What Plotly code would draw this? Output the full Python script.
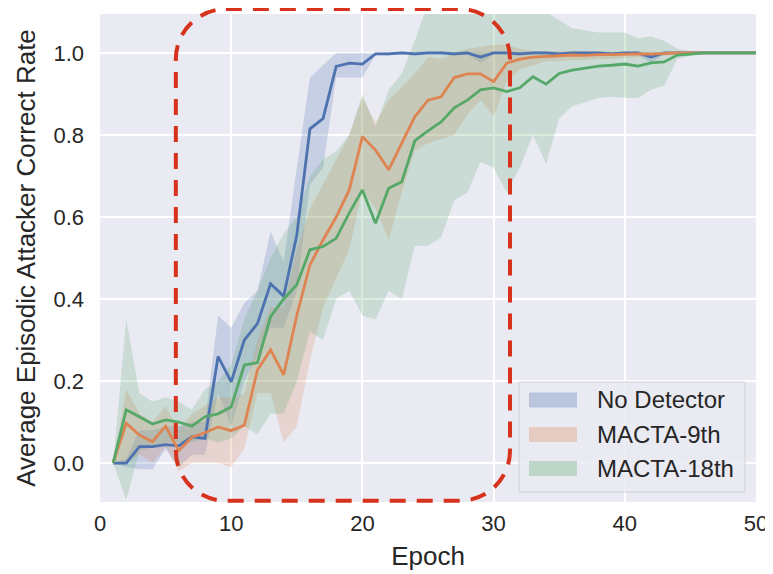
import plotly.graph_objects as go

# ---------------- data ----------------
epochs = list(range(1, 51))

no_det_mean = [0.0, 0.0, 0.04, 0.04, 0.045, 0.042, 0.064, 0.06, 0.26, 0.198,
               0.30, 0.34, 0.437, 0.407, 0.556, 0.815, 0.84, 0.967, 0.975, 0.973,
               0.998, 0.998, 1.0, 0.998, 1.0, 1.0, 0.998, 1.0, 0.99, 1.0,
               1.0, 0.998, 1.0, 1.0, 0.998, 1.0, 1.0, 1.0, 0.998, 1.0,
               1.0, 0.99, 1.0, 1.0, 1.0, 1.0, 1.0, 1.0, 1.0, 1.0]
no_det_lo = [0.0, -0.01, -0.015, -0.015, 0.035, -0.01, 0.02, 0.02, 0.17, 0.09,
             0.2, 0.26, 0.33, 0.33, 0.42, 0.68, 0.72, 0.94, 0.94, 0.94,
             0.995, 0.994, 0.996, 0.993, 0.996, 0.996, 0.993, 0.996, 0.975, 0.996,
             0.996, 0.993, 0.996, 0.996, 0.993, 0.996, 0.996, 0.996, 0.993, 0.996,
             0.996, 0.975, 0.996, 0.998, 1.0, 1.0, 1.0, 1.0, 1.0, 1.0]
no_det_hi = [0.0, 0.01, 0.08, 0.08, 0.09, 0.09, 0.10, 0.10, 0.36, 0.33,
             0.39, 0.42, 0.565, 0.49, 0.72, 0.94, 0.97, 1.0, 1.0, 1.0,
             1.0, 1.002, 1.003, 1.003, 1.003, 1.003, 1.003, 1.003, 1.003, 1.003,
             1.003, 1.003, 1.003, 1.003, 1.003, 1.003, 1.003, 1.003, 1.003, 1.003,
             1.003, 1.003, 1.003, 1.002, 1.0, 1.0, 1.0, 1.0, 1.0, 1.0]

m9_mean = [0.0, 0.097, 0.068, 0.052, 0.09, 0.03, 0.063, 0.074, 0.088, 0.079,
           0.092, 0.227, 0.276, 0.215, 0.36, 0.483, 0.544, 0.60, 0.666, 0.796,
           0.763, 0.715, 0.78, 0.845, 0.885, 0.893, 0.94, 0.949, 0.949, 0.93,
           0.975, 0.985, 0.99, 0.992, 0.993, 0.995, 0.994, 0.996, 0.996, 0.997,
           0.998, 0.997, 0.999, 1.0, 1.0, 1.0, 1.0, 1.0, 1.0, 1.0]
m9_lo = [0.0, 0.0, 0.02, 0.0, 0.04, -0.02, 0.0, 0.0, 0.0, -0.01,
         0.035, 0.17, 0.17, 0.05, 0.09, 0.25, 0.38, 0.45, 0.52, 0.666,
         0.62, 0.544, 0.66, 0.763, 0.78, 0.79, 0.80, 0.85, 0.885, 0.845,
         0.93, 0.96, 0.97, 0.98, 0.98, 0.983, 0.983, 0.985, 0.985, 0.988,
         0.99, 0.99, 0.993, 0.996, 0.998, 1.0, 1.0, 1.0, 1.0, 1.0]
m9_hi = [0.0, 0.18, 0.12, 0.1, 0.14, 0.08, 0.12, 0.14, 0.16, 0.16,
         0.17, 0.3, 0.38, 0.38, 0.52, 0.62, 0.68, 0.74, 0.8, 0.89,
         0.83, 0.885, 0.917, 0.95, 0.99, 0.985, 1.0, 1.01, 1.015, 1.02,
         1.02, 1.01, 1.005, 1.004, 1.004, 1.004, 1.004, 1.003, 1.003, 1.003,
         1.003, 1.003, 1.002, 1.001, 1.0, 1.0, 1.0, 1.0, 1.0, 1.0]

m18_mean = [0.0, 0.13, 0.113, 0.095, 0.105, 0.10, 0.09, 0.113, 0.12, 0.137,
            0.239, 0.245, 0.357, 0.40, 0.435, 0.52, 0.528, 0.548, 0.61, 0.666,
            0.585, 0.67, 0.686, 0.786, 0.81, 0.832, 0.866, 0.885, 0.91, 0.915,
            0.906, 0.915, 0.942, 0.924, 0.95, 0.958, 0.963, 0.968, 0.97, 0.973,
            0.968, 0.976, 0.978, 0.995, 0.997, 1.0, 1.0, 1.0, 1.0, 1.0]
m18_lo = [0.0, -0.09, 0.03, 0.04, 0.05, 0.05, 0.05, 0.06, 0.05, 0.06,
          0.09, 0.07, 0.12, 0.12, 0.2, 0.32, 0.30, 0.40, 0.42, 0.36,
          0.35, 0.42, 0.40, 0.53, 0.53, 0.55, 0.64, 0.66, 0.734, 0.72,
          0.66, 0.72, 0.80, 0.73, 0.84, 0.87, 0.88, 0.89, 0.893, 0.89,
          0.89, 0.91, 0.92, 0.985, 0.993, 0.997, 1.0, 1.0, 1.0, 1.0]
m18_hi = [0.0, 0.35, 0.17, 0.15, 0.16, 0.15, 0.13, 0.18, 0.2, 0.24,
          0.35, 0.42, 0.5, 0.56, 0.6, 0.7, 0.74, 0.76, 0.8, 0.9,
          0.82, 0.91, 0.95, 1.03, 1.12, 1.15, 1.15, 1.15, 1.15, 1.15,
          1.15, 1.15, 1.12, 1.1, 1.08, 1.06, 1.055, 1.05, 1.05, 1.05,
          1.035, 1.04, 1.03, 1.01, 1.005, 1.002, 1.0, 1.0, 1.0, 1.0]

series_names = ["No Detector", "MACTA-9th", "MACTA-18th"]
x_ticks = [0, 10, 20, 30, 40, 50]
y_ticks = [0.0, 0.2, 0.4, 0.6, 0.8, 1.0]

# highlighted region (epoch / rate units)
highlight = dict(x0=5.78, x1=31.25, y0=-0.092, y1=1.107)

# ---------------- style ----------------
colors = ["#4c72b0", "#dd8452", "#55a868"]
rgb = [(76, 114, 176), (221, 132, 82), (85, 168, 104)]
BAND_ALPHA = 0.22
TEXT = "#262626"
FONT = "Liberation Sans, Arial, sans-serif"

OFF = 8  # page body margin in the browser
W, H = 773 - OFF, 574 - OFF
ML, MR, MT, MB = 100 - OFF, 17, 14 - OFF, 72
XR = [0, 50]
YR = [-0.095, 1.095]
PW, PH = W - ML - MR, H - MT - MB


def px2paper(px, py):
    """window pixel -> paper coordinates"""
    return (px - OFF - ML) / PW, (H - MB - (py - OFF)) / PH


def d2paper(x, y):
    return (x - XR[0]) / (XR[1] - XR[0]), (y - YR[0]) / (YR[1] - YR[0])


fig = go.Figure()

means = [no_det_mean, m9_mean, m18_mean]
los = [no_det_lo, m9_lo, m18_lo]
his = [no_det_hi, m9_hi, m18_hi]

for i in range(3):
    r, g, b = rgb[i]
    fig.add_trace(go.Scatter(
        x=epochs + epochs[::-1], y=his[i] + los[i][::-1],
        fill="toself", fillcolor=f"rgba({r},{g},{b},{BAND_ALPHA})",
        line=dict(width=0), mode="lines", hoverinfo="skip", showlegend=False))

for i in range(3):
    fig.add_trace(go.Scatter(
        x=epochs, y=means[i], mode="lines", name=series_names[i],
        line=dict(color=colors[i], width=2.8), showlegend=False))

shapes = []

# red dashed rounded rectangle
bx0, by0 = d2paper(highlight["x0"], highlight["y0"])
bx1, by1 = d2paper(highlight["x1"], highlight["y1"])
rx, ry = 50 / PW, 50 / PH
k = 0.5523
path = (f"M {bx0+rx},{by1} L {bx1-rx},{by1} "
        f"C {bx1-rx+k*rx},{by1} {bx1},{by1-ry+k*ry} {bx1},{by1-ry} "
        f"L {bx1},{by0+ry} "
        f"C {bx1},{by0+ry-k*ry} {bx1-rx+k*rx},{by0} {bx1-rx},{by0} "
        f"L {bx0+rx},{by0} "
        f"C {bx0+rx-k*rx},{by0} {bx0},{by0+ry-k*ry} {bx0},{by0+ry} "
        f"L {bx0},{by1-ry} "
        f"C {bx0},{by1-ry+k*ry} {bx0+rx-k*rx},{by1} {bx0+rx},{by1} Z")
shapes.append(dict(type="path", xref="paper", yref="paper", path=path,
                   line=dict(color="#d6321c", width=4, dash="16px,11px"),
                   layer="above"))

# manual legend
lx0, ly0 = px2paper(519, 492)
lx1, ly1 = px2paper(745, 382)
shapes.append(dict(type="rect", xref="paper", yref="paper",
                   x0=lx0, y0=ly0, x1=lx1, y1=ly1,
                   fillcolor="rgba(234,234,242,0.85)",
                   line=dict(color="#d0d0d6", width=1), layer="above"))
annotations = []
row_centers = [400, 434.5, 468.5]
for i, name in enumerate(series_names):
    r, g, b = rgb[i]
    cy = row_centers[i]
    px0, py0 = px2paper(529, cy + 7.5)
    px1, py1 = px2paper(577, cy - 7.5)
    shapes.append(dict(type="rect", xref="paper", yref="paper",
                       x0=px0, y0=py0, x1=px1, y1=py1,
                       fillcolor=f"rgba({r},{g},{b},0.3)",
                       line=dict(width=0), layer="above"))
    tx, ty = px2paper(595, cy)
    annotations.append(dict(xref="paper", yref="paper", x=tx, y=ty,
                            text=name, showarrow=False, xanchor="left",
                            yanchor="middle",
                            font=dict(family=FONT, size=24, color=TEXT)))

fig.update_layout(
    width=W, height=H,
    margin=dict(l=ML, r=MR, t=MT, b=MB, autoexpand=False),
    paper_bgcolor="white", plot_bgcolor="#eaeaf2",
    font=dict(family=FONT, size=22, color=TEXT),
    shapes=shapes, annotations=annotations,
    showlegend=False,
)
fig.update_xaxes(range=XR, tickvals=x_ticks, ticktext=[str(t) for t in x_ticks],
                 showgrid=True, gridcolor="white", gridwidth=1.8,
                 zeroline=False, showline=False, ticks="", automargin=False,
                 ticklabelstandoff=6, tickfont=dict(size=22, color=TEXT),
                 title=dict(text="Epoch", font=dict(size=26, color=TEXT), standoff=11))
fig.update_yaxes(range=YR, tickvals=y_ticks, ticktext=[f"{t:.1f}" for t in y_ticks],
                 showgrid=True, gridcolor="white", gridwidth=1.8,
                 zeroline=False, showline=False, ticks="", automargin=False,
                 ticklabelstandoff=15, tickfont=dict(size=22, color=TEXT),
                 title=dict(text="Average Episodic Attacker Correct Rate",
                            font=dict(size=26, color=TEXT), standoff=10))

fig.write_html("out.html")
